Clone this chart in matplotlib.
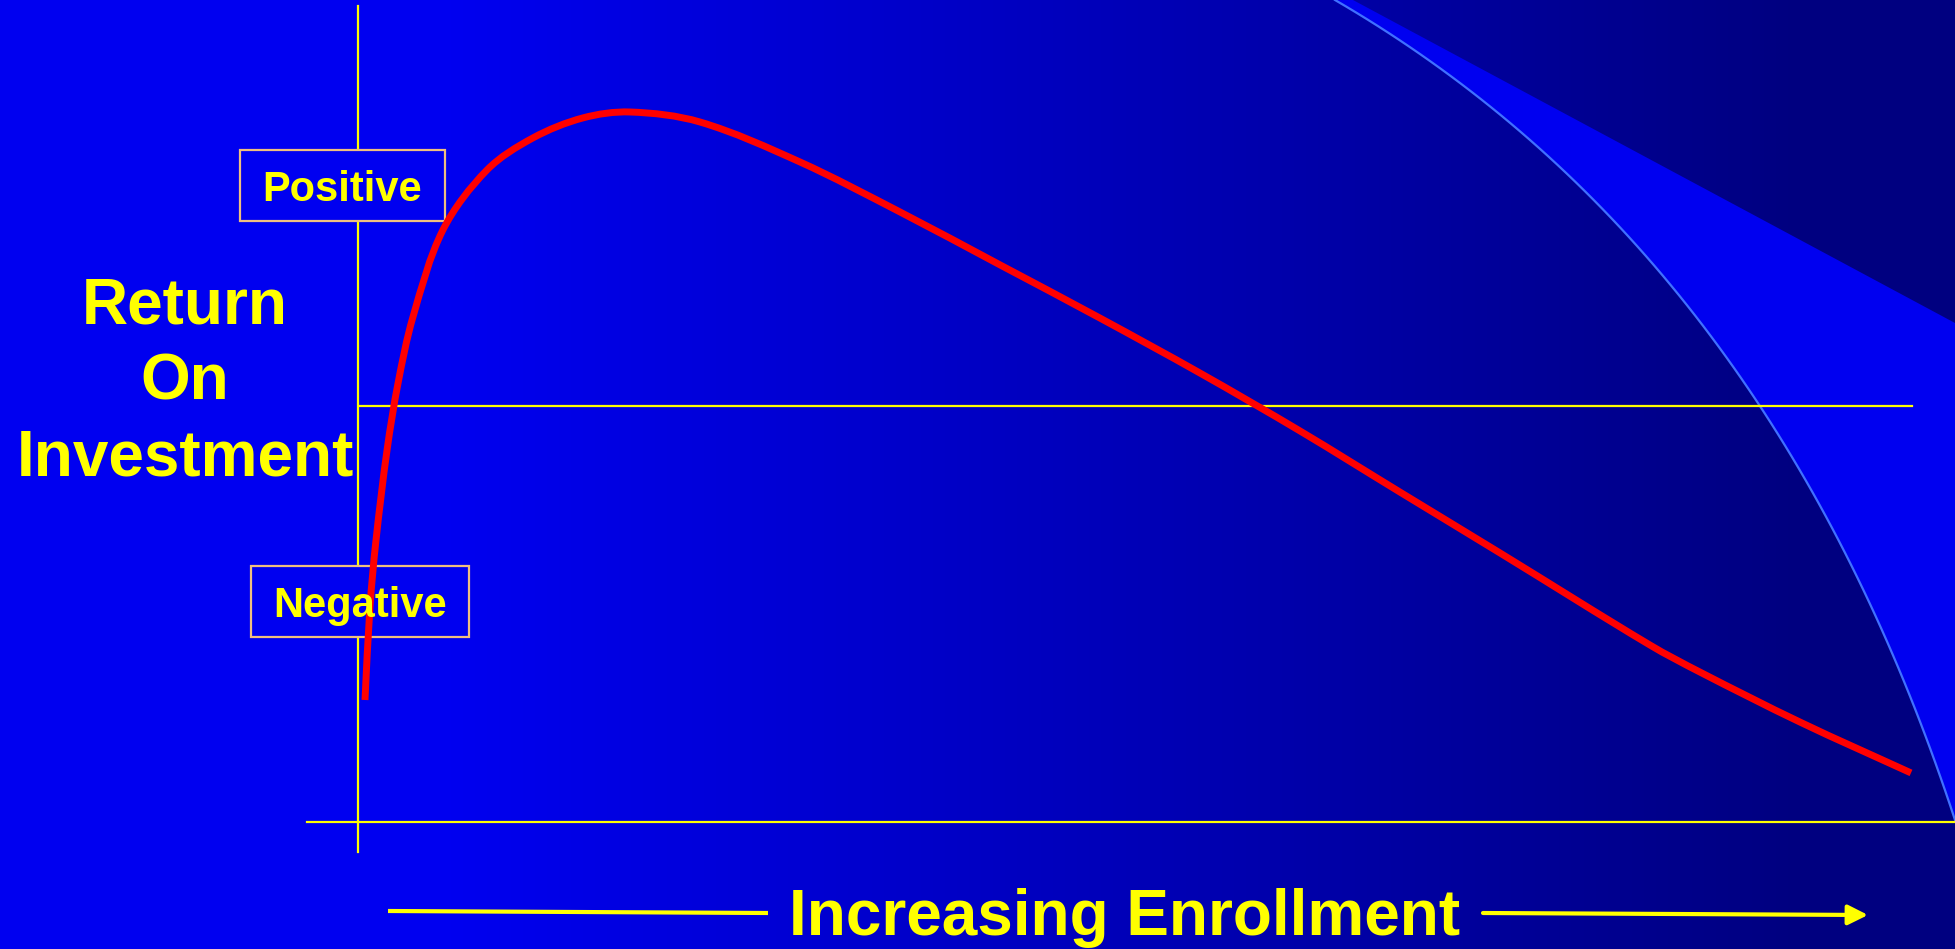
import numpy as np
import matplotlib
matplotlib.use("Agg")
import matplotlib.pyplot as plt
from matplotlib.patches import Rectangle, Polygon, PathPatch, FancyArrowPatch
from matplotlib.path import Path

plt.rcParams['font.family'] = ['Liberation Sans', 'DejaVu Sans']

# Return on investment as enrollment grows (relative units: peak = 100, break-even = 0)
enrollment = [0.45, 0.77, 1.16, 1.87, 2.58, 3.54, 5.47, 8.31, 11.27, 14.49, 17.51,
              22.02, 28.46, 34.90, 41.34, 47.78, 54.22, 60.66, 67.10, 73.54,
              83.19, 86.41, 92.85, 100.0]
roi = [-100.0, -68.4, -45.6, -15.0, 7.8, 30.3, 59.9, 80.3, 91.2, 98.0, 100.0,
       96.6, 83.0, 66.0, 48.0, 29.9, 11.2, -8.5, -29.3, -50.0,
       -81.3, -90.5, -107.5, -124.8]

y_title = ["Return", "On", "Investment"]
x_title = "Increasing Enrollment"
zone_labels = ["Positive", "Negative"]

W, H = 1955, 949
YELLOW = "#FFFF00"
BRIGHT = (0, 0, 240 / 255)
BOX_EDGE = "#EFBF7F"


def smooth_path(x, y, sx, sy):
    """Cubic Bezier path through the points (chord-length Hermite tangents)."""
    p = np.column_stack([np.asarray(x) * sx, np.asarray(y) * sy])
    t = np.concatenate([[0], np.cumsum(np.hypot(*np.diff(p, axis=0).T))])
    m = np.zeros_like(p)
    m[1:-1] = (p[2:] - p[:-2]) / (t[2:] - t[:-2])[:, None]
    m[0] = (p[1] - p[0]) / (t[1] - t[0])
    m[-1] = (p[-1] - p[-2]) / (t[-1] - t[-2])
    verts, codes = [p[0]], [Path.MOVETO]
    for i in range(len(p) - 1):
        h = t[i + 1] - t[i]
        verts += [p[i] + m[i] * h / 3, p[i + 1] - m[i + 1] * h / 3, p[i + 1]]
        codes += [Path.CURVE4] * 3
    verts = np.array(verts) / [sx, sy]
    return Path(verts, codes)


fig = plt.figure(figsize=(W / 100, H / 100), dpi=100)

# slide background, in pixel coordinates
bg = fig.add_axes([0, 0, 1, 1])
bg.set_xlim(0, W)
bg.set_ylim(H, 0)
bg.axis("off")

xs = np.arange(W)
blue = np.clip(240 - (xs - 450) * 112 / 1350, 128, 240) / 255
grad = np.zeros((1, W, 3))
grad[0, :, 2] = blue
bg.imshow(grad, extent=(0, W, H, 0), aspect="auto", zorder=0)

# bright swoosh in the upper right corner
p0, ctrl, p2 = (1335, 0), (1769, 252), (1955, 820)
t = np.linspace(0, 1, 80)[:, None]
arc = (1 - t) ** 2 * np.array(p0) + 2 * (1 - t) * t * np.array(ctrl) + t ** 2 * np.array(p2)
wedge = np.vstack([arc, [[1955, 323], [1353, 0]]])
bg.add_patch(Polygon(wedge, closed=True, facecolor=BRIGHT, edgecolor="none", zorder=1))
bg.plot(arc[:, 0], arc[:, 1], color="#4070FF", lw=1.6, zorder=2)

# data axes laid over the slide
ox, oy = 358, 406          # pixel position of (0 enrollment, 0 return)
sx, sy = 15.53, 2.94       # pixels per unit
ax = fig.add_axes([0, 0, 1, 1])
ax.set_xlim(-ox / sx, (W - ox) / sx)
ax.set_ylim((oy - H) / sy, oy / sy)
ax.axis("off")
ax.patch.set_alpha(0)
bg.set_zorder(0)
ax.set_zorder(1)

axis_top, axis_bottom = 136.0, -151.7
floor = -141.5
ax.plot([0, 0], [axis_bottom, axis_top], color=YELLOW, lw=1.6, zorder=3)
ax.plot([0.13, 100.06], [0, 0], color=YELLOW, lw=1.6, zorder=3)
ax.plot([-3.28, 103], [floor, floor], color=YELLOW, lw=1.6, zorder=3)

# label boxes sit on the vertical axis and hide it
boxes = [(240, 150, 205, 71, 201), (251, 566, 218, 71, 617)]
for (bx, by, bw, bh, base), label in zip(boxes, zone_labels):
    ax.add_patch(Rectangle(((bx - ox) / sx, (oy - by - bh) / sy), bw / sx, bh / sy,
                           facecolor=BRIGHT, edgecolor=BOX_EDGE, lw=1.6, zorder=4))
    fig.text((bx + bw / 2) / W, 1 - base / H, label, ha="center", va="baseline",
             fontsize=30, fontweight="bold", color=YELLOW, zorder=10)

ax.add_patch(PathPatch(smooth_path(enrollment, roi, sx, sy), facecolor="none",
                       edgecolor="#FF0000", lw=5, capstyle="butt", zorder=5))

# y-axis title
for line, base in zip(y_title, [323, 399, 476]):
    fig.text(185 / W, 1 - base / H, line, ha="center", va="baseline",
             fontsize=46, fontweight="bold", color=YELLOW)

# x-axis title with its arrow
fig.text(1125 / W, 1 - 935 / H, x_title, ha="center", va="baseline",
         fontsize=46, fontweight="bold", color=YELLOW)
bg.plot([388, 768], [911, 913], color=YELLOW, lw=3, solid_capstyle="butt", zorder=3)
bg.add_patch(FancyArrowPatch((1483, 913), (1868, 915),
                             arrowstyle="-|>,head_length=0.6,head_width=0.3",
                             mutation_scale=20, color=YELLOW, lw=3,
                             shrinkA=0, shrinkB=0, zorder=3))

fig.savefig("out.png", dpi=100)
